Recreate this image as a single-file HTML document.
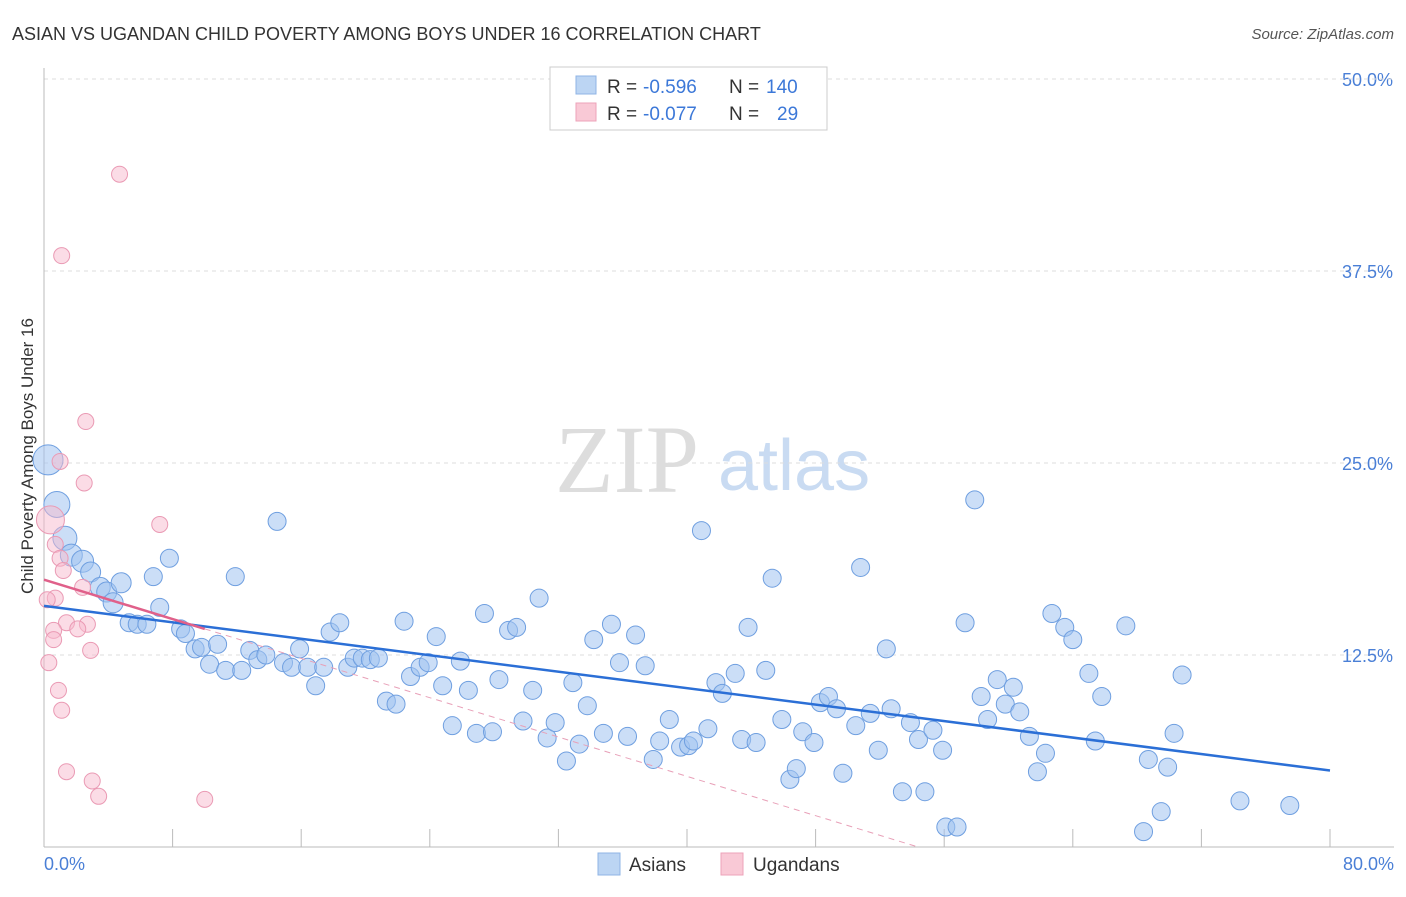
<!DOCTYPE html>
<html><head><meta charset="utf-8"><style>
body{margin:0;background:#fff;font-family:"Liberation Sans",sans-serif;}
svg text{font-family:"Liberation Sans",sans-serif;}
</style></head><body>
<svg width="1406" height="892" viewBox="0 0 1406 892">
<text x="12" y="40" font-size="18" fill="#333">ASIAN VS UGANDAN CHILD POVERTY AMONG BOYS UNDER 16 CORRELATION CHART</text>
<text x="1394" y="39" font-size="15" fill="#555" font-style="italic" text-anchor="end">Source: ZipAtlas.com</text>
<g>
<text x="555" y="492" font-size="96" fill="#ddd" font-family="Liberation Serif" style="font-family:'Liberation Serif',serif">ZIP</text>
<text x="718" y="490" font-size="72" fill="#c9dbf2">atlas</text>
</g>
<g id="grid"></g>
<line x1="44" y1="68" x2="44" y2="847" stroke="#bbb"/>
<line x1="44" y1="847" x2="1394" y2="847" stroke="#bbb"/>
<g id="ticks"></g>
<text transform="translate(33,456) rotate(-90)" font-size="17" fill="#333" text-anchor="middle">Child Poverty Among Boys Under 16</text>
<text x="44" y="870" font-size="18" fill="#4a7fd6">0.0%</text>
<text x="1394" y="870" font-size="18" fill="#4a7fd6" text-anchor="end">80.0%</text>
<g id="pts"></g>
<g id="lines"></g>
<g>
<rect x="550" y="67" width="277" height="63" fill="#fff" stroke="#ccc"/>
<rect x="576" y="76" width="20" height="18" fill="#bcd5f3" stroke="#8fb4e6"/>
<rect x="576" y="103" width="20" height="18" fill="#f9c9d6" stroke="#eda3b9"/>
<text x="607" y="93" font-size="19" fill="#333">R =</text>
<text x="643" y="93" font-size="19" fill="#3c78d8">-0.596</text>
<text x="729" y="93" font-size="19" fill="#333">N =</text>
<text x="766" y="93" font-size="19" fill="#3c78d8">140</text>
<text x="607" y="120" font-size="19" fill="#333">R =</text>
<text x="643" y="120" font-size="19" fill="#3c78d8">-0.077</text>
<text x="729" y="120" font-size="19" fill="#333">N =</text>
<text x="777" y="120" font-size="19" fill="#3c78d8">29</text>
</g>
<g>
<rect x="598" y="853" width="22" height="22" fill="#bcd5f3" stroke="#8fb4e6"/>
<text x="629" y="871" font-size="19" fill="#333">Asians</text>
<rect x="721" y="853" width="22" height="22" fill="#f9c9d6" stroke="#eda3b9"/>
<text x="753" y="871" font-size="19" fill="#333">Ugandans</text>
</g>
</svg>
<script>
const yTicks=[12.5,25,37.5,50];
const yTickLabels=["12.5%","25.0%","37.5%","50.0%"];
const xTicks=[0,8,16,24,32,40,48,56,64,72,80];
const asianX=[0.25,0.8,1.3,1.7,2.4,2.9,3.5,3.9,4.3,4.8,5.3,5.8,6.4,6.8,7.2,7.8,8.5,8.8,9.4,9.8,10.3,10.8,11.3,11.9,12.3,12.8,13.3,13.8,14.5,14.9,15.4,15.9,16.4,16.9,17.4,17.8,18.4,18.9,19.3,19.8,20.3,20.8,21.3,21.9,22.4,22.8,23.4,23.9,24.4,24.8,25.4,25.9,26.4,26.9,27.4,27.9,28.3,28.9,29.4,29.8,30.4,30.8,31.3,31.8,32.5,32.9,33.3,33.8,34.2,34.8,35.3,35.8,36.3,36.8,37.4,37.9,38.3,38.9,39.6,40.1,40.4,40.9,41.3,41.8,42.2,43.0,43.4,43.8,44.3,44.9,45.3,45.9,46.4,46.8,47.2,47.9,48.3,48.8,49.3,49.7,50.5,50.8,51.4,51.9,52.4,52.7,53.4,53.9,54.4,54.8,55.3,55.9,56.1,56.8,57.3,57.9,58.3,58.7,59.3,59.8,60.3,60.7,61.3,61.8,62.3,62.7,63.5,64.0,65.0,65.4,65.8,67.3,68.4,68.7,69.5,69.9,70.3,70.8,74.4,77.5];
const asianY=[25.2,22.3,20.1,19.0,18.6,17.9,16.9,16.6,15.9,17.2,14.6,14.5,14.5,17.6,15.6,18.8,14.2,13.9,12.9,13.0,11.9,13.2,11.5,17.6,11.5,12.8,12.2,12.5,21.2,12.0,11.7,12.9,11.7,10.5,11.7,14.0,14.6,11.7,12.3,12.3,12.2,12.3,9.5,9.3,14.7,11.1,11.7,12.0,13.7,10.5,7.9,12.1,10.2,7.4,15.2,7.5,10.9,14.1,14.3,8.2,10.2,16.2,7.1,8.1,5.6,10.7,6.7,9.2,13.5,7.4,14.5,12.0,7.2,13.8,11.8,5.7,6.9,8.3,6.5,6.6,6.9,20.6,7.7,10.7,10.0,11.3,7.0,14.3,6.8,11.5,17.5,8.3,4.4,5.1,7.5,6.8,9.4,9.8,9.0,4.8,7.9,18.2,8.7,6.3,12.9,9.0,3.6,8.1,7.0,3.6,7.6,6.3,1.3,1.3,14.6,22.6,9.8,8.3,10.9,9.3,10.4,8.8,7.2,4.9,6.1,15.2,14.3,13.5,11.3,6.9,9.8,14.4,1.0,5.7,2.3,5.2,7.4,11.2,3.0,2.7];
const asianR=[15,13,12,11,11,10,10,10,10,10];
const ugX=[4.7,1.1,2.6,1.0,2.5,7.2,0.4,0.7,1.0,1.2,2.4,0.7,0.2,1.4,2.7,0.6,2.1,0.6,2.9,0.3,0.9,1.1,1.4,3.0,3.4,10.0];
const ugY=[43.8,38.5,27.7,25.1,23.7,21.0,21.3,19.7,18.8,18.0,16.9,16.2,16.1,14.6,14.5,14.1,14.2,13.5,12.8,12.0,10.2,8.9,4.9,4.3,3.3,3.1];
const ugR=[8,8,8,8,8,8,14];
const blueFit=[15.7,-0.134];
const pinkFit=[17.4,-0.32];
const ns="http://www.w3.org/2000/svg";
const X=v=>44+v*16.075, Y=v=>847-v*15.36;
function mk(t,a,p){const e=document.createElementNS(ns,t);for(const k in a)e.setAttribute(k,a[k]);p.appendChild(e);return e;}
const grid=document.getElementById('grid'),ticks=document.getElementById('ticks'),pts=document.getElementById('pts'),lines=document.getElementById('lines');
yTicks.forEach((v,i)=>{
 const l=mk('line',{x1:44,x2:1394,y1:Y(v),y2:Y(v),stroke:'#ddd','stroke-dasharray':'4,4'},grid);
 
 
 const t=mk('text',{x:1393,y:Y(v)+7,'font-size':18,fill:'#4a7fd6','text-anchor':'end'},grid);
 t.textContent=yTickLabels[i];
 
 
});
mk('line',{x1:44,x2:1394,y1:79,y2:79,stroke:'#ddd','stroke-dasharray':'4,4'},grid);
xTicks.forEach(v=>{
 const l=mk('line',{x1:X(v),x2:X(v),y1:829,y2:847,stroke:'#bbb'},ticks);
 
 
});
asianX.forEach((x,i)=>{
 const c=mk('circle',{cx:X(x),cy:Y(asianY[i]),r:asianR[i]||9,fill:'rgba(160,195,240,0.55)',stroke:'#6f9fe0','stroke-width':1},pts);
 
 
});
ugX.forEach((x,i)=>{
 const c=mk('circle',{cx:X(x),cy:Y(ugY[i]),r:ugR[i]||8,fill:'rgba(248,185,205,0.5)',stroke:'#ea9ab4','stroke-width':1},pts);
 
 
});
let l=mk('line',{x1:X(0),y1:Y(blueFit[0]),x2:X(80),y2:Y(blueFit[0]+blueFit[1]*80),stroke:'#2b6fd6','stroke-width':2.5},lines);


l=mk('line',{x1:X(0),y1:Y(pinkFit[0]),x2:X(10),y2:Y(pinkFit[0]+pinkFit[1]*10),stroke:'#e0608a','stroke-width':2.5},lines);


const xe=-pinkFit[0]/pinkFit[1];
l=mk('line',{x1:X(10),y1:Y(pinkFit[0]+pinkFit[1]*10),x2:X(xe),y2:Y(0),stroke:'#e8a0b8','stroke-width':1,'stroke-dasharray':'6,5'},lines);


</script>
</body></html>
